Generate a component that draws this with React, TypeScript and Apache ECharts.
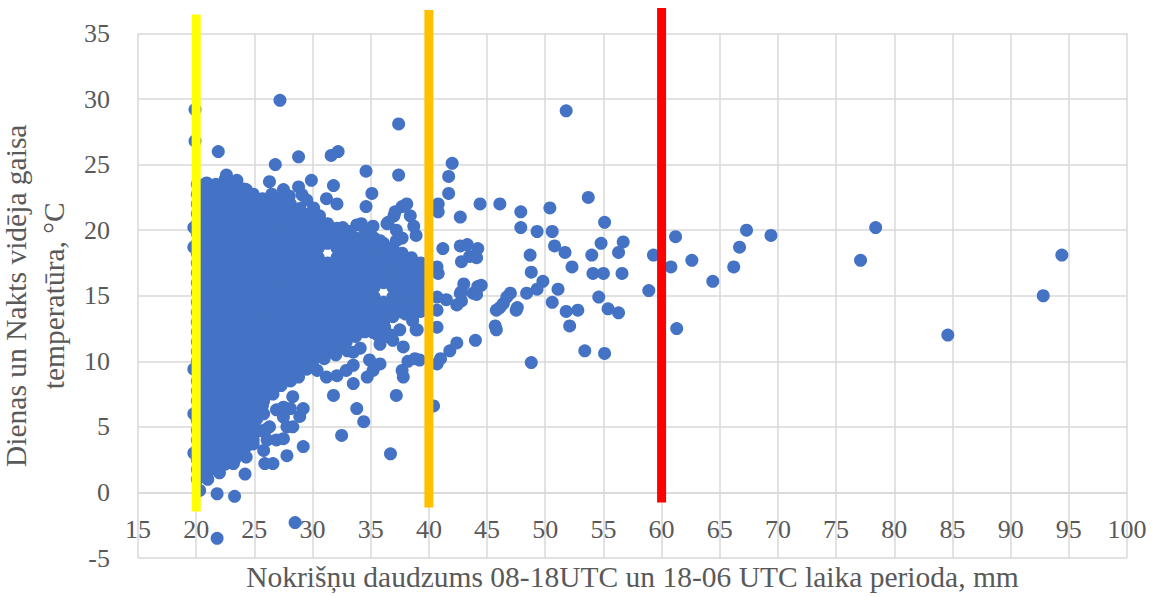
import React, { useEffect, useRef } from "react";
import * as echarts from "echarts";

// Axis ranges / ticks
const xMin = 15;
const xMax = 100;
const xStep = 5;
const yMin = -5;
const yMax = 35;
const yStep = 5;

const xTitle = "Nokrišņu daudzums 08-18UTC un 18-06 UTC laika perioda, mm";
const yTitle = "Dienas un Nakts vidēja gaisa\ntemperatūra, °C";

// Dense core of observations: x (mm) per column, with temperatures (°C)
const coreX = [20.1, 20.9, 21.7, 22.5, 23.3, 24.1, 24.9, 25.7, 26.5, 27.3, 28.1, 28.9, 29.7, 30.5, 31.3, 32.1, 32.9, 33.7, 34.5, 35.3, 36.1, 36.9, 37.7, 38.5, 39.3];
const coreY: number[][] = [
  [1.0, 1.75, 2.5, 3.25, 4.0, 4.75, 5.5, 6.25, 7.0, 7.75, 8.5, 9.25, 10.0, 10.75, 11.5, 12.25, 13.0, 13.75, 14.5, 15.25, 16.0, 16.75, 17.5, 18.25, 19.0, 19.75, 20.5, 21.25, 22.0, 22.75, 23.5],
  [1.4, 2.15, 2.9, 3.65, 4.4, 5.15, 5.9, 6.65, 7.4, 8.15, 8.9, 9.65, 10.4, 11.15, 11.9, 12.65, 13.4, 14.15, 14.9, 15.65, 16.4, 17.15, 17.9, 18.65, 19.4, 20.15, 20.9, 21.65, 22.4, 23.15, 23.6],
  [1.75, 2.5, 3.25, 4.0, 4.75, 5.5, 6.25, 7.0, 7.75, 8.5, 9.25, 10.0, 10.75, 11.5, 12.25, 13.0, 13.75, 14.5, 15.25, 16.0, 16.75, 17.5, 18.25, 19.0, 19.75, 20.5, 21.25, 22.0, 22.75, 23.5],
  [2.15, 2.9, 3.65, 4.4, 5.15, 5.9, 6.65, 7.4, 8.15, 8.9, 9.65, 10.4, 11.15, 11.9, 12.65, 13.4, 14.15, 14.9, 15.65, 16.4, 17.15, 17.9, 18.65, 19.4, 20.15, 20.9, 21.65, 22.4, 23.15, 23.9],
  [2.5, 3.25, 4.0, 4.75, 5.5, 6.25, 7.0, 7.75, 8.5, 9.25, 10.0, 10.75, 11.5, 12.25, 13.0, 13.75, 14.5, 15.25, 16.0, 16.75, 17.5, 18.25, 19.0, 19.75, 20.5, 21.25, 22.0, 22.75, 23.5],
  [2.9, 3.65, 4.4, 5.15, 5.9, 6.65, 7.4, 8.15, 8.9, 9.65, 10.4, 11.15, 11.9, 12.65, 13.4, 14.15, 14.9, 15.65, 16.4, 17.15, 17.9, 18.65, 19.4, 20.15, 20.9, 21.65, 22.4, 23.15],
  [4.0, 4.75, 5.5, 6.25, 7.0, 7.75, 8.5, 9.25, 10.0, 10.75, 11.5, 12.25, 13.0, 13.75, 14.5, 15.25, 16.0, 16.75, 17.5, 18.25, 19.0, 19.75, 20.5, 21.25, 22.0, 22.75],
  [6.65, 7.4, 8.15, 8.9, 9.65, 10.4, 11.15, 11.9, 12.65, 13.4, 14.15, 14.9, 15.65, 16.4, 17.15, 17.9, 18.65, 19.4, 20.15, 20.9, 21.65, 22.4],
  [7.75, 8.5, 9.25, 10.0, 10.75, 11.5, 12.25, 13.0, 13.75, 14.5, 15.25, 16.0, 16.75, 17.5, 18.25, 19.0, 19.75, 20.5, 21.25, 22.0, 22.75],
  [8.15, 8.9, 9.65, 10.4, 11.15, 11.9, 12.65, 13.4, 14.15, 14.9, 15.65, 16.4, 17.15, 17.9, 18.65, 19.4, 20.15, 20.9, 21.65, 22.4],
  [8.5, 9.25, 10.0, 10.75, 11.5, 12.25, 13.0, 13.75, 14.5, 15.25, 16.0, 16.75, 17.5, 18.25, 19.0, 19.75, 20.5, 21.25, 22.0],
  [9.65, 10.4, 11.15, 11.9, 12.65, 13.4, 14.15, 14.9, 15.65, 16.4, 17.15, 17.9, 18.65, 19.4, 20.15, 20.9, 21.65],
  [10.0, 10.75, 11.5, 12.25, 13.0, 13.75, 14.5, 15.25, 16.0, 16.75, 17.5, 18.25, 19.0, 19.75, 20.5, 21.25],
  [10.4, 11.15, 11.9, 12.65, 13.4, 14.15, 14.9, 15.65, 16.4, 17.15, 17.9, 18.65, 19.4, 20.15, 20.9],
  [10.75, 11.5, 12.25, 13.0, 13.75, 14.5, 15.25, 16.0, 16.75, 17.5, 19.0, 19.75, 20.5],
  [11.15, 11.9, 12.65, 13.4, 14.15, 14.9, 15.65, 16.4, 17.15, 17.9, 18.65, 19.4, 20.15],
  [11.5, 12.25, 13.0, 13.75, 14.5, 15.25, 16.0, 16.75, 17.5, 18.25, 19.0, 19.75],
  [11.9, 12.65, 13.4, 14.15, 14.9, 15.65, 16.4, 17.15, 17.9, 18.65, 19.4],
  [12.25, 13.0, 13.75, 14.5, 15.25, 16.0, 16.75, 17.5, 18.25, 19.0, 19.75],
  [12.65, 13.4, 14.15, 14.9, 15.65, 16.4, 17.15, 17.9, 18.65, 19.4],
  [13.0, 13.75, 14.5, 16.0, 16.75, 17.5, 18.25, 19.0],
  [13.4, 14.15, 14.9, 15.65, 16.4, 17.15, 17.9, 18.65],
  [13.75, 14.5, 15.25, 16.0, 16.75, 17.5, 18.25],
  [14.15, 14.9, 15.65, 16.4, 17.15, 17.9],
  [14.5, 15.25, 16.0, 16.75, 17.5],
];

// Points along the left edge (partly hidden by the 20 mm line)
const leftEdgePts: [number, number][] = [
  [19.9, 29.2], [19.9, 26.8], [19.8, 20.2], [19.8, 18.7], [19.8, 9.4], [19.8, 6.0], [19.8, 3.0],
];

// Low temperatures below the core
const lowPts: [number, number][] = [
  [20.3, 0.15], [21.8, -0.1], [23.3, -0.3], [21.8, -3.5], [28.5, -2.3], [21.0, 1.0], [22.0, 1.5],
  [24.2, 1.4], [23.2, 2.2], [24.3, 2.7], [25.9, 2.2], [26.6, 2.2], [27.8, 2.8], [29.2, 3.5],
  [32.5, 4.35], [36.7, 2.95], [24.3, 3.5], [24.9, 3.7], [25.8, 3.2], [26.1, 4.0], [26.9, 4.0],
  [25.5, 4.7], [26.3, 5.0], [25.8, 6.0], [26.9, 6.3], [25.8, 7.0], [26.6, 7.5], [27.5, 6.5],
  [27.5, 5.75], [27.8, 5.0], [27.5, 4.1], [28.3, 5.0], [28.9, 5.8], [29.2, 6.4], [28.1, 8.55],
  [28.3, 7.3], [28.1, 6.4], [28.8, 8.8], [25.2, 5.6], [24.6, 6.3], [26.0, 4.8],
];

// Points around the lower-right edge of the core
const midLowPts: [number, number][] = [
  [28.8, 9.3], [29.5, 9.4], [30.4, 9.3], [31.2, 8.8], [32.1, 8.9], [32.9, 9.3], [33.5, 9.7],
  [33.5, 8.3], [31.8, 7.4], [33.8, 6.4], [34.4, 5.4], [34.7, 8.8], [35.2, 9.3], [35.8, 9.8],
  [34.9, 10.1], [37.2, 7.4], [37.7, 9.3], [37.8, 8.8], [38.2, 10.0], [38.8, 10.2], [37.8, 11.1],
  [38.9, 12.4], [34.1, 11.0], [35.8, 11.3], [36.9, 11.6], [37.5, 12.4], [38.6, 13.1], [36.4, 11.9],
  [35.2, 12.2], [33.5, 10.7], [30.0, 9.9], [31.0, 10.2], [32.0, 10.5], [33.0, 10.8], [36.2, 12.6],
  [36.7, 12.0], [35.6, 12.0], [38.0, 13.6], [39.3, 13.8], [39.0, 12.4], [39.2, 10.1],
];

// Points around the upper edge of the core
const topPts: [number, number][] = [
  [21.9, 26.0], [26.8, 25.0], [28.8, 25.6], [31.6, 25.7], [32.2, 26.0], [27.2, 29.9], [37.4, 28.1],
  [34.6, 24.5], [37.4, 24.2], [29.9, 23.8], [31.8, 23.4], [35.1, 22.8], [34.6, 21.8], [31.2, 22.4],
  [32.1, 22.0], [30.1, 21.7], [26.3, 23.7], [27.5, 23.1], [28.8, 23.3], [29.1, 22.7], [29.5, 22.3],
  [34.2, 20.5], [35.2, 20.3], [36.4, 20.5], [37.0, 21.1], [37.7, 21.8], [38.1, 22.0], [38.4, 21.1],
  [38.7, 20.3], [37.2, 20.0], [35.8, 19.2], [32.6, 20.2], [33.2, 19.9], [22.6, 24.2], [23.5, 23.8],
  [24.3, 23.1], [37.1, 21.4], [36.5, 20.6], [38.9, 19.6], [37.7, 19.4], [37.2, 19.2], [35.8, 18.6],
  [36.5, 18.2], [37.1, 18.2], [38.4, 17.7], [38.8, 16.9], [38.1, 16.4], [38.9, 15.9], [38.6, 13.3],
  [28.0, 22.6], [30.6, 21.1], [33.8, 20.4],
];

// Points between 40 and 48 mm
const near40Pts: [number, number][] = [
  [40.4, 6.6], [40.7, 9.8], [41.0, 10.2], [41.8, 10.8], [42.4, 11.4], [44.0, 11.6], [40.7, 12.6],
  [41.5, 14.7], [42.7, 15.2], [43.8, 15.2], [43.0, 15.9], [40.7, 14.9], [40.7, 13.9], [42.0, 25.1],
  [41.7, 24.1], [41.7, 22.8], [40.8, 22.0], [40.8, 21.4], [42.7, 21.0], [44.4, 22.0], [46.1, 22.0],
  [47.9, 21.4], [47.9, 20.2], [41.2, 18.6], [42.7, 18.8], [43.3, 18.9], [44.2, 18.6], [42.8, 17.6],
  [43.5, 18.0], [44.1, 17.9], [40.7, 17.2], [40.8, 16.7], [42.8, 14.6], [44.2, 15.7], [44.5, 15.8],
  [44.1, 15.1], [45.8, 12.4], [45.7, 12.7], [46.1, 14.1], [45.8, 13.9], [47.5, 13.9], [46.7, 14.9],
  [47.6, 14.1], [46.4, 14.4], [47.0, 15.2], [42.8, 15.3], [42.4, 14.3],
];

// Sparse points beyond 48 mm
const farPts: [number, number][] = [
  [51.8, 29.1], [50.4, 21.7], [53.7, 22.5], [49.3, 19.9], [50.6, 19.9], [55.1, 20.6], [54.8, 19.0],
  [56.7, 19.1], [56.3, 18.3], [50.8, 18.8], [51.7, 18.3], [52.3, 17.2], [54.0, 18.1], [54.1, 16.7],
  [55.0, 16.7], [56.6, 16.7], [54.6, 14.9], [55.4, 14.0], [56.3, 13.7], [53.4, 10.8], [55.1, 10.6],
  [48.8, 9.9], [52.1, 12.7], [52.8, 13.9], [51.8, 13.8], [51.1, 15.5], [50.6, 14.5], [49.8, 16.1],
  [49.3, 15.5], [48.8, 16.8], [48.7, 18.1], [48.4, 15.2], [59.3, 18.1], [58.9, 15.4], [61.2, 19.5],
  [60.8, 17.2], [62.6, 17.7], [61.3, 12.5], [64.4, 16.1], [66.2, 17.2], [66.7, 18.7], [67.3, 20.0],
  [69.4, 19.6], [77.1, 17.7], [78.4, 20.2], [84.6, 12.0], [92.8, 15.0], [94.4, 18.1],
];

// Threshold lines (mm) and their drawn vertical extent (°C)
const thresholdX = [20, 40, 60];
const thresholdBottom = [-1.45, -1.15, -0.76];
const thresholdTop = [36.45, 36.8, 36.95];
const thresholdColors = ["#FFFF00", "#FFC000", "#FF0000"];

const FONT = "Liberation Serif";
const TEXT = "#595959";
const GRID = "#d9d9d9";

const GRID_TOP = 33.5;
const GRID_BOTTOM = 39;
const CHART_H = 597;

export default function App() {
  const ref = useRef<HTMLDivElement>(null);

  useEffect(() => {
    if (!ref.current) return;
    const chart = echarts.init(ref.current, undefined, { renderer: "svg" });

    const corePts: [number, number][] = [];
    coreY.forEach((ys, i) => ys.forEach((y) => corePts.push([coreX[i], y])));
    const allPts = [
      ...corePts,
      ...leftEdgePts,
      ...lowPts,
      ...midLowPts,
      ...topPts,
      ...near40Pts,
      ...farPts,
    ];

    // the horizontal axis crosses the vertical one at 0 °C
    const plotH = CHART_H - GRID_TOP - GRID_BOTTOM;
    const zeroOffset = -plotH * (0 - yMin) / (yMax - yMin);

    const lineSeries = thresholdX.map((x, i) => ({
      type: "line" as const,
      data: [
        [x, thresholdBottom[i]],
        [x, thresholdTop[i]],
      ],
      symbol: "none",
      clip: false,
      silent: true,
      z: 5,
      lineStyle: { color: thresholdColors[i], width: 9, cap: "butt" as const },
    }));

    chart.setOption({
      animation: false,
      backgroundColor: "#ffffff",
      textStyle: { fontFamily: FONT },
      grid: { left: 138, right: 26, top: GRID_TOP, bottom: GRID_BOTTOM, outerBoundsMode: "none", containLabel: false },
      xAxis: {
        type: "value",
        min: xMin,
        max: xMax,
        interval: xStep,
        position: "bottom",
        offset: zeroOffset,
        axisLine: { show: true, onZero: false, lineStyle: { color: GRID, width: 1.5 } },
        axisTick: { show: false },
        axisLabel: { margin: 24, fontSize: 26, color: TEXT, fontFamily: FONT },
        splitLine: { show: true, lineStyle: { color: GRID, width: 1.5 } },
        name: xTitle,
        nameLocation: "middle",
        nameGap: 70,
        nameTextStyle: { fontSize: 29.5, color: TEXT, fontFamily: FONT },
      },
      yAxis: {
        type: "value",
        min: yMin,
        max: yMax,
        interval: yStep,
        axisLine: { show: false },
        axisTick: { show: false },
        axisLabel: { margin: 28, fontSize: 26, color: TEXT, fontFamily: FONT },
        splitLine: { show: true, lineStyle: { color: GRID, width: 1.5 } },
        name: yTitle,
        nameLocation: "middle",
        nameRotate: 90,
        nameGap: 54,
        nameTextStyle: { fontSize: 29.5, lineHeight: 38, color: TEXT, fontFamily: FONT, align: "center" },
      },
      series: [
        {
          type: "scatter",
          data: allPts,
          symbol: "circle",
          symbolSize: 13,
          itemStyle: { color: "#4472C4", opacity: 1 },
          z: 2,
          silent: true,
        },
        ...lineSeries,
      ],
    });

    return () => chart.dispose();
  }, []);

  return (
    <div
      ref={ref}
      style={{ position: "absolute", left: 0, top: 0, width: 1153, height: CHART_H, background: "#fff" }}
    />
  );
}
